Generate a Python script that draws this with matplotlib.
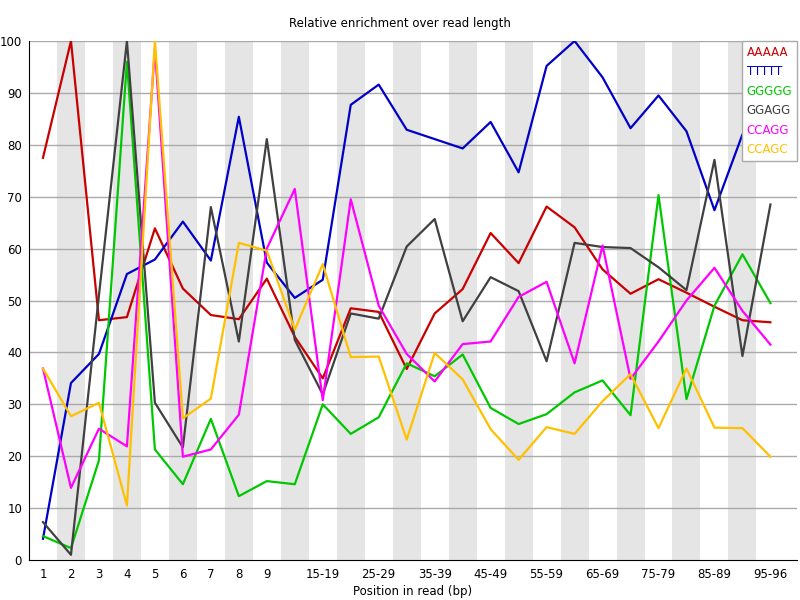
import matplotlib
matplotlib.use('Agg')
import matplotlib.pyplot as plt
import numpy as np

# positions along the read (FastQC style bins)
positions = ['1', '2', '3', '4', '5', '6', '7', '8', '9',
             '10-14', '15-19', '20-24', '25-29', '30-34', '35-39', '40-44',
             '45-49', '50-54', '55-59', '60-64', '65-69', '70-74', '75-79',
             '80-84', '85-89', '90-94', '95-96']
shown_labels = ['1', '2', '3', '4', '5', '6', '7', '8', '9',
                '15-19', '25-29', '35-39', '45-49', '55-59', '65-69',
                '75-79', '85-89', '95-96']

kmers = ['AAAAA', 'TTTTT', 'GGGGG', 'GGAGG', 'CCAGG', 'CCAGC']
colors = ['#c80000', '#0000c8', '#00c800', '#404040', '#ff00ff', '#ffc000']

aaaaa = [77.5, 100, 46.2, 46.8, 63.9, 52.3, 47.2, 46.4, 54.2,
         43.0, 35.0, 48.5, 47.8, 36.8, 47.5, 52.2, 63.0, 57.2,
         68.1, 64.1, 56.0, 51.3, 54.1, 51.5, 48.8, 46.2, 45.8]
ttttt = [4.1, 34.1, 39.7, 55.1, 57.9, 65.2, 57.7, 85.4, 57.3,
         50.5, 54.0, 87.7, 91.6, 82.9, 81.1, 79.3, 84.4, 74.7,
         95.2, 100, 93.0, 83.2, 89.5, 82.6, 67.4, 82.0, 88.0]
ggggg = [4.6, 2.3, 19.2, 96.0, 21.3, 14.6, 27.2, 12.3, 15.2,
         14.6, 30.0, 24.3, 27.5, 37.9, 35.4, 39.6, 29.3, 26.2,
         28.1, 32.3, 34.6, 27.9, 70.3, 31.0, 49.0, 58.9, 49.5]
ggagg = [7.3, 1.0, 51.0, 100, 30.3, 21.7, 68.0, 42.1, 81.1,
         42.4, 31.9, 47.5, 46.5, 60.4, 65.7, 46.0, 54.5, 51.8,
         38.3, 61.1, 60.3, 60.1, 56.4, 52.0, 77.1, 39.3, 68.5]
ccagg = [36.9, 13.9, 25.3, 21.9, 98.5, 19.9, 21.3, 28.0, 60.0,
         71.5, 30.8, 69.5, 49.0, 39.7, 34.4, 41.6, 42.1, 50.7,
         53.6, 37.9, 60.6, 34.9, 42.1, 50.0, 56.3, 48.0, 41.5]
ccagc = [36.9, 27.7, 30.3, 10.5, 100, 27.3, 31.1, 61.1, 59.6,
         44.4, 57.0, 39.1, 39.2, 23.2, 39.9, 34.8, 25.2, 19.3,
         25.6, 24.3, 30.6, 35.8, 25.4, 36.9, 25.5, 25.4, 19.9]

series = [aaaaa, ttttt, ggggg, ggagg, ccagg, ccagc]

fig = plt.figure(figsize=(8, 6), dpi=100)
ax = fig.add_axes([29 / 800, 40 / 600, 768 / 800, 519 / 600])

x = np.arange(len(positions))

# alternating background stripes
for i in x:
    if i % 2 == 1:
        ax.axvspan(i - 0.5, i + 0.5, color='#e5e5e5', lw=0, zorder=0)

for v in range(10, 101, 10):
    ax.axhline(v, color='#aaaaaa', lw=1, zorder=1)

for name, col, vals in zip(kmers, colors, series):
    ax.plot(x, vals, color=col, lw=1.6, label=name, zorder=3)

ax.set_xlim(-0.5, 26.95)
ax.set_ylim(0, 100)
ax.set_yticks(range(0, 101, 10))
ax.set_xticks([positions.index(p) for p in shown_labels])
ax.set_xticklabels(shown_labels)
ax.tick_params(length=0, labelsize=8.5, pad=6)
ax.tick_params(axis='y', pad=5)

for s in ['top', 'right']:
    ax.spines[s].set_visible(False)
ax.spines['left'].set_color('black')
ax.spines['bottom'].set_color('black')

ax.set_xlabel('Position in read (bp)', fontsize=8.5, labelpad=3)
fig.text(0.5, 1 - 24 / 600, 'Relative enrichment over read length',
         ha='center', va='center', fontsize=8.5)

leg = ax.legend(loc='upper right', handlelength=0, handletextpad=0,
                fontsize=8.5, frameon=True, fancybox=False,
                borderaxespad=0, borderpad=0.4, labelspacing=0.55)
leg.get_frame().set_edgecolor('#aaaaaa')
leg.get_frame().set_linewidth(1)
leg.get_frame().set_alpha(1)
leg.set_zorder(5)
for h in leg.legend_handles:
    h.set_visible(False)
for t, col in zip(leg.get_texts(), colors):
    t.set_color(col)

fig.savefig('out.png', dpi=100)
